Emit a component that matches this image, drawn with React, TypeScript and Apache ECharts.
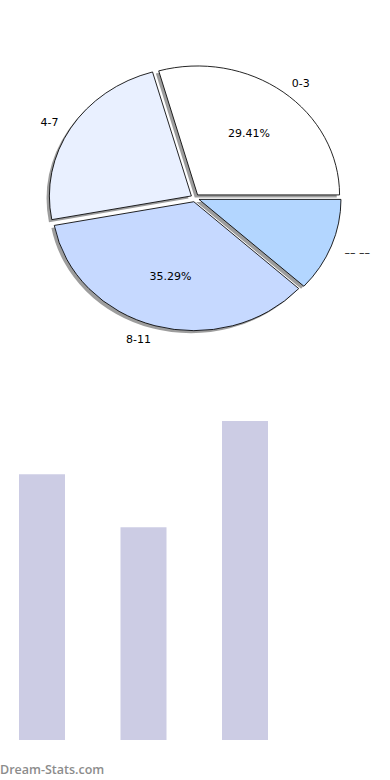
import React, { useEffect, useRef } from "react";
import * as echarts from "echarts";

const pieLabels = ["0-3", "4-7", "8-11", "–– ––"];
const pieValues = [5, 4, 6, 2];
const pieColors = ["#ffffff", "#e9f0ff", "#c6d9ff", "#b3d6ff"];
const pieExplode = [0.03, 0.03, 0.03, 0.03];
const showPct = [true, false, true, false];

const barCategories = ["0-3", "4-7", "8-11"];
const barValues = [5, 4, 6];

const watermark = "Dream-Stats.com";

export default function App() {
  const ref = useRef<HTMLDivElement>(null);
  useEffect(() => {
    if (!ref.current) return;
    const chart = echarts.init(ref.current, null, { renderer: "svg" });
    const cx = 195;
    const cy = 198;
    const rx = 142;
    const ry = 129;
    const total = pieValues.reduce((a, b) => a + b, 0);
    const font = "DejaVu Sans";

    const renderItem = (params: any, api: any) => {
      const i = params.dataIndex;
      let before = 0;
      for (let k = 0; k < i; k++) before += pieValues[k];
      const v = api.value(0);
      const t1 = (before / total) * Math.PI * 2;
      const t2 = ((before + v) / total) * Math.PI * 2;
      const tm = (t1 + t2) / 2;
      const ex = pieExplode[i];
      const ox = cx + ex * rx * Math.cos(tm);
      const oy = cy - ex * ry * Math.sin(tm);
      const shape = { cx: 0, cy: 0, r: rx, r0: 0, startAngle: -t2, endAngle: -t1, clockwise: true };
      const children: any[] = [
        {
          type: "sector",
          x: ox - 0.02 * rx,
          y: oy + 0.02 * ry,
          scaleX: 1,
          scaleY: ry / rx,
          shape,
          style: { fill: "rgba(60,60,60,0.5)", stroke: "none" },
          silent: true,
        },
        {
          type: "sector",
          x: ox,
          y: oy,
          scaleX: 1,
          scaleY: ry / rx,
          shape,
          style: { fill: pieColors[i], stroke: "#000000", lineWidth: 0.9, strokeNoScale: true },
        },
      ];
      const lx = ox + 1.1 * rx * Math.cos(tm);
      const ly = oy - 1.1 * ry * Math.sin(tm) + 1.5;
      children.push({
        type: "text",
        style: {
          text: pieLabels[i],
          x: lx,
          y: ly,
          align: Math.cos(tm) > 0 ? "left" : "right",
          verticalAlign: "middle",
          fill: "#000000",
          fontSize: 11,
          fontFamily: font,
        },
      });
      if (showPct[i]) {
        children.push({
          type: "text",
          style: {
            text: ((v / total) * 100).toFixed(2) + "%",
            x: ox + 0.6 * rx * Math.cos(tm),
            y: oy - 0.6 * ry * Math.sin(tm),
            align: "center",
            verticalAlign: "middle",
            fill: "#000000",
            fontSize: 11,
            fontFamily: font,
          },
        });
      }
      return { type: "group", children };
    };

    chart.setOption({
      animation: false,
      backgroundColor: "#ffffff",
      grid: { left: -8.75, width: 304.5, top: 421, bottom: 40, outerBoundsMode: "none", containLabel: false },
      xAxis: { type: "category", data: barCategories, show: false },
      yAxis: { type: "value", min: 0, max: 6, show: false },
      graphic: [
        {
          type: "text",
          left: 0,
          top: 763,
          style: {
            text: watermark,
            fill: "#8c8c8c",
            fontSize: 12.5,
            fontWeight: 600,
            fontFamily: "Open Sans",
          },
        },
      ],
      series: [
        {
          type: "custom",
          coordinateSystem: "none",
          data: pieValues.map((v) => [v]),
          renderItem,
          silent: true,
        },
        {
          type: "bar",
          data: barValues,
          barWidth: 46,
          itemStyle: { color: "#cccce4" },
          silent: true,
        },
      ],
    });
    return () => chart.dispose();
  }, []);
  return (
    <div
      ref={ref}
      style={{ position: "fixed", left: 0, top: 0, width: 390, height: 780 }}
    />
  );
}
